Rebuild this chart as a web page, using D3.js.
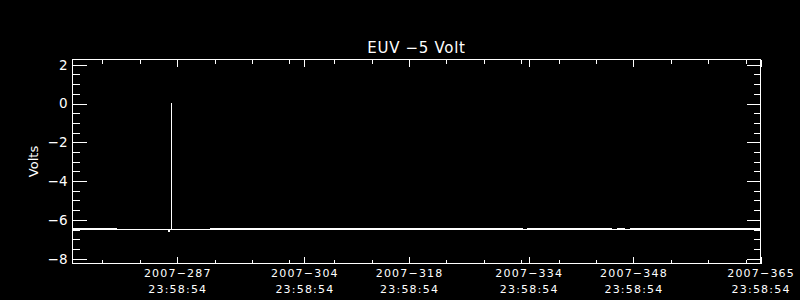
<!DOCTYPE html>
<html>
<head>
<meta charset="utf-8">
<script src="https://cdn.jsdelivr.net/npm/d3@7"></script>
<style>
  body { margin: 0; background: #000; }
  svg { display: block; }
</style>
</head>
<body>
<div id="chart"></div>
<script>
// telemetry trace, binned: day of year (at 23:58:54), min and max volts per bin
const traceDoy = [273.0, 278.95, 278.96, 285.85, 285.9, 285.98, 286.03, 286.23, 286.24, 286.25,
  291.39, 291.4, 333.11, 333.12, 333.78, 333.79, 345.01, 345.02, 345.81, 345.82,
  346.75, 346.76, 347.55, 347.56, 365.0];
const traceMin = [-6.50, -6.50, -6.50, -6.50, -6.60, -6.60, -6.50, -6.50, 0.05, -6.50,
  -6.50, -6.50, -6.50, -6.50, -6.50, -6.50, -6.50, -6.50, -6.50, -6.50,
  -6.50, -6.50, -6.50, -6.50, -6.50];
const traceMax = [-6.44, -6.44, -6.50, -6.50, -6.60, -6.60, -6.50, -6.50, 0.05, -6.50,
  -6.50, -6.44, -6.44, -6.50, -6.50, -6.44, -6.44, -6.50, -6.50, -6.44,
  -6.44, -6.50, -6.50, -6.44, -6.44];

// axis ticks
const xRangeDoy = [273, 365];
const xMajorDoy = [287, 304, 318, 334, 348, 365];
const xMinorDoy = [277, 282, 292, 297, 302, 308, 313, 323, 328, 333, 338, 343, 353, 358, 363];
const yDomain = [-8.25, 2.27];
const yMajor = [-8, -6, -4, -2, 0, 2];
const yMinor = [-7.5, -7, -6.5, -5.5, -5, -4.5, -3.5, -3, -2.5, -1.5, -1, -0.5, 0.5, 1, 1.5];

const title = "EUV \u22125 Volt";
const yTitle = "Volts";

const W = 800, H = 300;
const margin = {top: 59.5, right: 39.5, bottom: 36.5, left: 72.5};

const doyDate = d => new Date(Date.UTC(2007, 0, 1, 23, 58, 54) + (d - 1) * 864e5);
const minus = s => s.replace(/-/g, "\u2212");

let svg = d3.select("#chart")
  .append("svg")
    .attr("width", W)
    .attr("height", H)
    .style("background", "#000")
    .attr("shape-rendering", "crispEdges");

let x = d3.scaleUtc()
  .domain(xRangeDoy.map(doyDate))
  .range([margin.left, W - margin.right]);

let y = d3.scaleLinear()
  .domain(yDomain)
  .range([H - margin.bottom, margin.top]);

let fmtDay = d3.utcFormat("%Y-%j"),
  fmtTime = d3.utcFormat("%H:%M:%S");

// x axes, ticks point inward
function xAxes(axis, yPos, size, values) {
  svg.append("g")
    .attr("class", "axis")
    .attr("transform", "translate(0," + yPos + ")")
    .call(axis(x).tickValues(values.map(doyDate)).tickSize(size).tickSizeOuter(0).tickFormat(""))
    .call(g => g.select(".domain").remove());
}
xAxes(d3.axisBottom, H - margin.bottom, -7, xMajorDoy);
xAxes(d3.axisBottom, H - margin.bottom, -4, xMinorDoy);
xAxes(d3.axisTop, margin.top, -7, xMajorDoy);
xAxes(d3.axisTop, margin.top, -4, xMinorDoy);

function yAxes(axis, xPos, size, values) {
  svg.append("g")
    .attr("class", "axis")
    .attr("transform", "translate(" + xPos + ",0)")
    .call(axis(y).tickValues(values).tickSize(size).tickSizeOuter(0).tickFormat(""))
    .call(g => g.select(".domain").remove());
}
yAxes(d3.axisLeft, margin.left, -14, yMajor);
yAxes(d3.axisLeft, margin.left, -7, yMinor);
yAxes(d3.axisRight, W - margin.right, -14, yMajor);
yAxes(d3.axisRight, W - margin.right, -7, yMinor);

svg.selectAll(".axis line").attr("stroke", "#fff");

// frame
svg.append("rect")
  .attr("x", margin.left)
  .attr("y", margin.top)
  .attr("width", W - margin.right - margin.left)
  .attr("height", H - margin.bottom - margin.top)
  .attr("fill", "none")
  .attr("stroke", "#fff");

// labels
let labels = svg.append("g")
  .attr("fill", "#fff")
  .attr("font-family", "DejaVu Sans")
  .attr("shape-rendering", "auto");

labels.selectAll(".ylab")
  .data(yMajor)
  .enter().append("text")
    .attr("x", margin.left - 5)
    .attr("y", d => y(d))
    .attr("dy", "0.36em")
    .attr("text-anchor", "end")
    .style("font-size", "13.5px")
    .text(d => minus(d3.format("d")(d)));

let xl = labels.selectAll(".xlab")
  .data(xMajorDoy)
  .enter().append("text")
    .attr("text-anchor", "middle")
    .style("font-size", "11px")
    .style("letter-spacing", "1.2px");
xl.append("tspan")
  .attr("x", d => x(doyDate(d)) + 0.6)
  .attr("y", 277)
  .text(d => minus(fmtDay(doyDate(d))));
xl.append("tspan")
  .attr("x", d => x(doyDate(d)) + 0.6)
  .attr("y", 292.5)
  .text(d => fmtTime(doyDate(d)));

labels.append("text")
  .attr("x", (margin.left + W - margin.right) / 2)
  .attr("y", 53)
  .attr("text-anchor", "middle")
  .style("font-size", "15px")
  .style("letter-spacing", "0.7px")
  .text(title);

labels.append("text")
  .attr("transform", "translate(38," + (margin.top + H - margin.bottom) / 2 + ") rotate(-90)")
  .attr("text-anchor", "middle")
  .style("font-size", "13px")
  .text(yTitle);

// trace
let pts = traceDoy.map((d, i) => ({t: doyDate(d), lo: traceMin[i], hi: traceMax[i]}));

let plot = svg.append("g");
["lo", "hi"].forEach(k => {
  plot.append("path")
    .datum(pts)
    .attr("fill", "none")
    .attr("stroke", "#fff")
    .attr("stroke-width", 1)
    .attr("d", d3.line().x(d => x(d.t)).y(d => y(d[k])));
});
</script>
</body>
</html>
